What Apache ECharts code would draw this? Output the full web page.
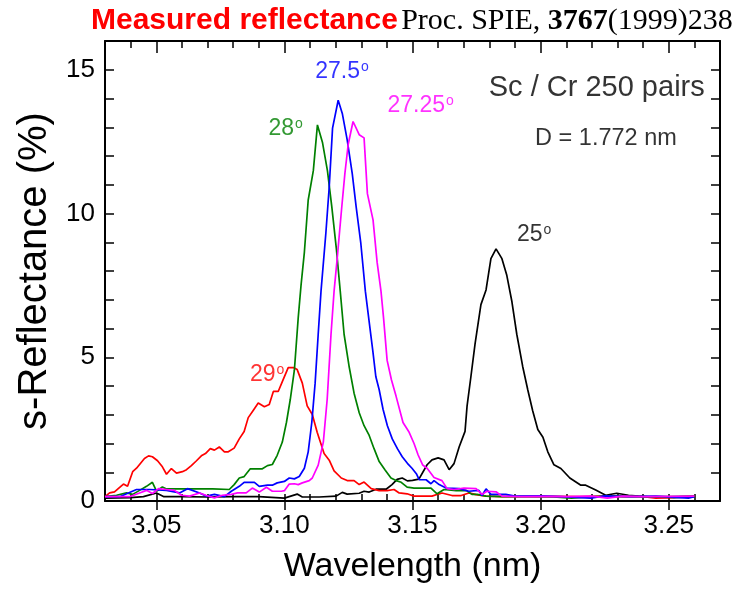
<!DOCTYPE html>
<html><head><meta charset="utf-8">
<script src="https://cdn.jsdelivr.net/npm/echarts@6/dist/echarts.min.js"></script>
<style>html,body{margin:0;padding:0;background:#fff}#c{width:738px;height:589px}</style>
</head><body><div id="c"></div>
<script>
// ---- data (wavelength nm, s-reflectance %) ----
const wl25 = [3.030,3.040,3.045,3.0501,3.053,3.060,3.070,3.080,3.090,3.1000,3.1050,3.1070,3.1136,3.1202,3.1226,3.1245,3.1292,3.1311,3.1331,3.1358,3.1397,3.1420,3.1440,3.1460,3.1480,3.1500,3.1525,3.1557,3.1576,3.1600,3.1623,3.1643,3.1662,3.1682,3.1705,3.1713,3.1728,3.1744,3.1767,3.1787,3.1806,3.1826,3.1849,3.1868,3.1888,3.1907,3.1930,3.1950,3.1969,3.1989,3.2009,3.2028,3.2052,3.2079,3.2114,3.2157,3.2176,3.2215,3.2254,3.2297,3.2343,3.2382,3.245,3.252,3.260];
const r25  = [0.10,0.12,0.15,0.28,0.15,0.15,0.14,0.15,0.15,0.10,0.24,0.14,0.14,0.17,0.30,0.24,0.27,0.34,0.31,0.41,0.41,0.57,0.75,0.80,0.70,0.72,0.76,1.26,1.43,1.50,1.43,1.09,1.30,1.88,2.42,3.31,4.33,5.46,6.83,7.34,8.43,8.77,8.43,7.85,6.93,5.80,4.68,3.86,3.14,2.49,2.22,1.71,1.26,1.13,0.80,0.55,0.55,0.38,0.20,0.27,0.20,0.17,0.13,0.12,0.15];

const wl29 = [3.0300,3.0318,3.0337,3.0372,3.0388,3.0408,3.0423,3.0454,3.0470,3.0485,3.0505,3.0524,3.0540,3.0559,3.0579,3.0602,3.0618,3.0637,3.0657,3.0676,3.0692,3.0711,3.0727,3.0746,3.0766,3.0781,3.0804,3.0824,3.0843,3.0859,3.0879,3.0898,3.0922,3.0941,3.0957,3.0976,3.0992,3.1015,3.1035,3.1050,3.1070,3.1089,3.1109,3.1128,3.1155,3.1175,3.1194,3.1222,3.1245,3.1272,3.1292,3.1311,3.1339,3.1370,3.1401,3.1428,3.1448,3.1479,3.1506,3.1526,3.1576,3.1604,3.1615,3.1654,3.1690,3.1720,3.1748,3.1787,3.185,3.195,3.205,3.215,3.225,3.232,3.240,3.245,3.250,3.255,3.260];
const r29  = [0.15,0.28,0.32,0.59,0.51,1.02,1.14,1.48,1.57,1.54,1.40,1.19,0.93,1.13,0.97,1.02,1.09,1.23,1.40,1.57,1.65,1.82,1.77,1.88,1.71,1.71,1.84,2.16,2.42,2.90,3.16,3.41,3.28,3.36,3.81,3.81,4.15,4.64,4.64,4.57,4.10,3.31,3.01,2.39,1.65,1.42,1.05,0.80,0.71,0.71,0.57,0.66,0.43,0.36,0.36,0.40,0.28,0.25,0.17,0.17,0.17,0.25,0.28,0.19,0.19,0.28,0.22,0.17,0.15,0.15,0.16,0.15,0.17,0.15,0.15,0.10,0.12,0.15,0.17];

const wl28 = [3.0300,3.0345,3.0384,3.0408,3.0435,3.0462,3.0485,3.0501,3.0524,3.0540,3.0579,3.0650,3.0720,3.0785,3.0804,3.0824,3.0843,3.0867,3.0891,3.0914,3.0934,3.0953,3.0972,3.0992,3.1008,3.1023,3.1039,3.1054,3.1065,3.1078,3.1093,3.1113,3.1129,3.1149,3.1168,3.1185,3.1203,3.1218,3.1233,3.1253,3.1272,3.1292,3.1311,3.1331,3.1350,3.1370,3.1393,3.1416,3.1436,3.1456,3.1479,3.1506,3.1545,3.1572,3.1596,3.1623,3.1670,3.1709,3.1732,3.1752,3.1787,3.185,3.195,3.205,3.212,3.220,3.230,3.240,3.250,3.260];
const r28  = [0.15,0.20,0.28,0.23,0.37,0.51,0.65,0.34,0.49,0.42,0.42,0.42,0.42,0.40,0.57,0.80,0.85,1.12,1.12,1.12,1.23,1.27,1.59,2.05,2.73,3.53,4.55,6.37,7.50,8.65,10.47,11.49,13.08,12.46,11.49,10.24,8.76,7.30,5.80,4.66,3.75,3.07,2.62,2.28,1.82,1.37,1.08,0.80,0.71,0.65,0.48,0.45,0.45,0.45,0.25,0.40,0.36,0.37,0.23,0.23,0.17,0.15,0.15,0.14,0.10,0.15,0.17,0.15,0.15,0.17];

const wl275 = [3.0300,3.0357,3.0423,3.0474,3.0540,3.0591,3.0622,3.0669,3.0696,3.0727,3.0766,3.0793,3.0824,3.0843,3.0883,3.0902,3.0934,3.0953,3.0972,3.1000,3.1019,3.1039,3.1058,3.1078,3.1093,3.1107,3.1120,3.1132,3.1143,3.1162,3.1175,3.1188,3.1210,3.1226,3.1245,3.1265,3.1280,3.1298,3.1316,3.1329,3.1345,3.1357,3.1370,3.1385,3.1402,3.1421,3.1441,3.1460,3.1480,3.1498,3.1515,3.1526,3.1553,3.1572,3.1584,3.1604,3.1631,3.1682,3.1720,3.1759,3.1771,3.1787,3.1806,3.1864,3.190,3.200,3.208,3.2196,3.225,3.235,3.245,3.2577,3.260];
const r275  = [0.15,0.15,0.40,0.40,0.37,0.28,0.43,0.28,0.17,0.23,0.15,0.34,0.51,0.65,0.65,0.51,0.55,0.55,0.63,0.68,0.80,0.77,0.85,1.14,1.71,2.73,4.10,5.80,7.30,9.33,10.92,12.97,13.94,13.48,12.57,11.38,10.24,8.99,7.30,6.37,5.23,4.32,3.87,3.19,2.62,2.16,1.82,1.54,1.31,1.14,0.95,0.74,0.74,0.60,0.71,0.57,0.45,0.43,0.34,0.37,0.19,0.42,0.23,0.23,0.17,0.18,0.15,0.10,0.18,0.15,0.17,0.10,0.15];

const wl2725 = [3.0300,3.0396,3.0435,3.0462,3.0485,3.0509,3.0540,3.0571,3.0598,3.0630,3.0669,3.0696,3.0727,3.0758,3.0793,3.0817,3.0851,3.0875,3.0902,3.0930,3.0953,3.0988,3.1000,3.1019,3.1039,3.1054,3.1070,3.1097,3.1109,3.1132,3.1152,3.1167,3.1182,3.1194,3.1206,3.1223,3.1236,3.1249,3.1268,3.1292,3.1311,3.1324,3.1346,3.1362,3.1377,3.1387,3.1401,3.1418,3.1436,3.1463,3.1487,3.1506,3.1522,3.1540,3.1557,3.1584,3.1615,3.1635,3.1662,3.1701,3.1748,3.1771,3.1791,3.1826,3.1849,3.192,3.200,3.210,3.220,3.226,3.232,3.240,3.250,3.260];
const r2725  = [0.15,0.15,0.28,0.37,0.26,0.43,0.40,0.37,0.20,0.17,0.28,0.19,0.11,0.20,0.23,0.28,0.28,0.45,0.31,0.48,0.34,0.34,0.36,0.59,0.60,0.57,0.63,0.71,0.80,1.25,2.05,3.53,5.80,7.30,8.42,10.13,11.38,12.40,13.20,12.74,12.63,10.69,9.78,8.30,7.30,6.37,4.89,4.21,3.64,2.73,2.39,2.00,1.60,1.25,1.14,0.82,0.71,0.43,0.40,0.45,0.43,0.23,0.34,0.32,0.17,0.15,0.16,0.15,0.17,0.10,0.17,0.15,0.16,0.17];

// annotation labels: [text, wavelength, reflectance, colour]
const angleLabels = [
  ['25', 3.1975, 9.25, '#000000'],
  ['27.25', 3.1532, 13.75, '#ff00ff'],
  ['27.5', 3.1225, 14.95, '#0000ff'],
  ['28', 3.1005, 12.95, '#008000'],
  ['29', 3.0933, 4.4, '#ff0000']
];
const infoLabels = [
  ['Sc / Cr 250 pairs', 3.2219, 14.35, 29],
  ['D = 1.772 nm', 3.2255, 12.6, 23.5]
];
const xMin = 3.03, xMax = 3.27, yMin = 0, yMax = 16;

const zip = (a, b) => a.map((v, i) => [v, b[i]]);

const chart = echarts.init(document.getElementById('c'), null, {renderer: 'canvas'});
const FONT = '"Liberation Sans", Arial, sans-serif';
const SERIF = '"Liberation Serif", "Times New Roman", serif';
const plotL = 105, plotR = 720, plotT = 41, plotB = 510, W = 738, H = 589;
const px = v => plotL + (v - xMin) / (xMax - xMin) * (plotR - plotL);

const lineSeries = (name, wl, r, color) => ({
  name, type: 'line', data: zip(wl, r), showSymbol: false, symbol: 'none',
  lineStyle: {color, width: 1.7}, itemStyle: {color}, silent: true, animation: false
});

const labelSeries = {
  type: 'scatter', symbolSize: 0, silent: true, animation: false,
  data: angleLabels.map(l => ({
    value: [l[1], l[2]],
    label: {show: true, position: 'inside', formatter: '{n|' + l[0] + '}{s|o}',
      rich: {n: {fontFamily: FONT, fontSize: 23, color: l[3]},
             s: {fontFamily: FONT, fontSize: 14, color: l[3], verticalAlign: 'top', lineHeight: 14, padding: [0,0,12,1]}}}
  })).concat(infoLabels.map(l => ({
    value: [l[1], l[2]],
    label: {show: true, position: 'inside', formatter: l[0], fontFamily: FONT, fontSize: l[3], color: '#000'}
  })))
};

chart.setOption({
  animation: false,
  backgroundColor: '#fff',
  title: {
    text: '{a|Measured reflectance}{sp| }{b|Proc. SPIE, }{c|3767}{b|(1999)238}',
    left: 86, top: 1,
    textStyle: {fontWeight: 'normal', rich: {
      a: {fontFamily: FONT, fontWeight: 'bold', fontSize: 30, color: '#ff0000'},
      sp: {fontFamily: FONT, fontSize: 12},
      b: {fontFamily: SERIF, fontWeight: 'normal', fontSize: 30, color: '#000'},
      c: {fontFamily: SERIF, fontWeight: 'bold', fontSize: 30, color: '#000'}
    }}
  },
  grid: [
    {left: plotL, right: W - plotR, top: plotT, bottom: H - plotB, containLabel: false},
    {left: px(3.05), right: W - px(3.25), top: plotT, bottom: H - plotB, containLabel: false}
  ],
  xAxis: [
    {type: 'value', gridIndex: 0, position: 'bottom', min: xMin, max: xMax, interval: 0.01,
     name: 'Wavelength (nm)', nameLocation: 'middle', nameGap: 49,
     nameTextStyle: {fontFamily: FONT, fontSize: 34, color: '#000'},
     axisLine: {show: true, onZero: false, lineStyle: {color: '#000', width: 2}},
     axisTick: {show: true, inside: true, length: 7, lineStyle: {color: '#000', width: 1.5}},
     axisLabel: {fontFamily: FONT, fontSize: 26, color: '#000', margin: 12,
       formatter: v => (Math.round(v * 100) % 5 === 0) ? v.toFixed(2) : ''},
     splitLine: {show: false}},
    {type: 'value', gridIndex: 0, position: 'top', min: xMin, max: xMax, interval: 0.01,
     axisLine: {show: true, onZero: false, lineStyle: {color: '#000', width: 2}},
     axisTick: {show: true, inside: true, length: 7, lineStyle: {color: '#000', width: 1.5}},
     axisLabel: {show: false}, splitLine: {show: false}},
    {type: 'value', gridIndex: 1, position: 'bottom', min: 3.05, max: 3.25, interval: 0.05,
     axisLine: {show: false}, axisLabel: {show: false}, splitLine: {show: false},
     axisTick: {show: true, inside: true, length: 12, lineStyle: {color: '#000', width: 1.5}}},
    {type: 'value', gridIndex: 1, position: 'top', min: 3.05, max: 3.25, interval: 0.05,
     axisLine: {show: false}, axisLabel: {show: false}, splitLine: {show: false},
     axisTick: {show: true, inside: true, length: 12, lineStyle: {color: '#000', width: 1.5}}}
  ],
  yAxis: [
    {type: 'value', gridIndex: 0, position: 'left', min: yMin, max: yMax, interval: 1,
     name: 's-Reflectance (%)', nameLocation: 'middle', nameGap: 44, nameRotate: 90,
     nameTextStyle: {fontFamily: FONT, fontSize: 40, color: '#000'},
     axisLine: {show: true, onZero: false, lineStyle: {color: '#000', width: 2}},
     axisTick: {show: true, inside: true, length: 9, lineStyle: {color: '#000', width: 1.5}},
     axisLabel: {fontFamily: FONT, fontSize: 26, color: '#000', margin: 10,
       formatter: v => (v % 5 === 0) ? String(v) : ''},
     splitLine: {show: false}},
    {type: 'value', gridIndex: 0, position: 'right', min: yMin, max: yMax, interval: 1,
     axisLine: {show: true, onZero: false, lineStyle: {color: '#000', width: 2}},
     axisTick: {show: true, inside: true, length: 9, lineStyle: {color: '#000', width: 1.5}},
     axisLabel: {show: false}, splitLine: {show: false}},
    {type: 'value', gridIndex: 1, min: 0, max: 1, show: false}
  ],
  series: [
    lineSeries('25°', wl25, r25, '#000000'),
    lineSeries('29°', wl29, r29, '#ff0000'),
    lineSeries('28°', wl28, r28, '#008000'),
    lineSeries('27.5°', wl275, r275, '#0000ff'),
    lineSeries('27.25°', wl2725, r2725, '#ff00ff'),
    labelSeries
  ]
});
</script>
</body></html>
